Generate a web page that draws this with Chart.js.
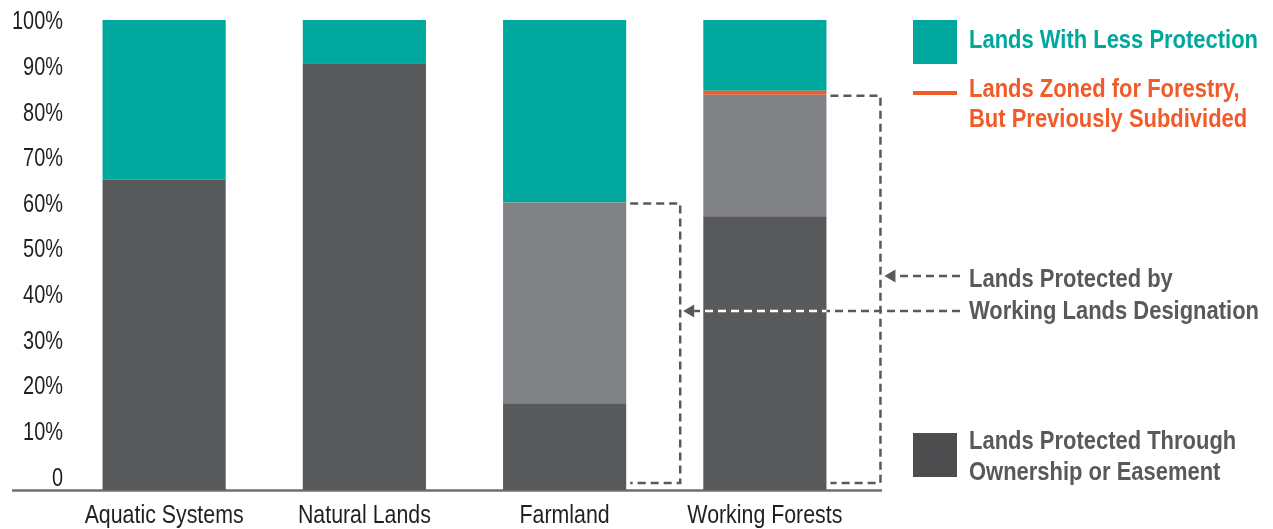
<!DOCTYPE html>
<html>
<head>
<meta charset="utf-8">
<title>Protection by land type</title>
<script src="https://cdn.jsdelivr.net/npm/chart.js"></script>
<style>
  html, body { margin: 0; padding: 0; background: #fff; }
</style>
</head>
<body>
<canvas id="chart" width="1273" height="529"></canvas>
<script>
// data
const categories = ['Aquatic Systems', 'Natural Lands', 'Farmland', 'Working Forests'];
const ownership = [65, 90.5, 16, 57];        // Lands Protected Through Ownership or Easement
const workingLands = [0, 0, 44, 26.6];       // Lands Protected by Working Lands Designation
const zonedSubdivided = [0, 0, 0, 0.9];      // Lands Zoned for Forestry, But Previously Subdivided
const lessProtection = [35, 9.5, 40, 15.5];  // Lands With Less Protection
const yTicks = [0, 10, 20, 30, 40, 50, 60, 70, 80, 90, 100];

const legendLess = ['Lands With Less Protection'];
const legendZoned = ['Lands Zoned for Forestry,', 'But Previously Subdivided'];
const legendWorking = ['Lands Protected by', 'Working Lands Designation'];
const legendOwned = ['Lands Protected Through', 'Ownership or Easement'];

const TEAL = '#00a79d';
const DARK = '#58595b';
const LIGHT = '#808285';
const ORANGE = '#f15a29';
const INK = '#231f20';
// no condensed face installed, so Liberation Sans gets squeezed sideways
const FONT = "'Liberation Sans', Arial, sans-serif";
const SIZE = 26;
const CAP = SIZE * 0.716;

Chart.defaults.font.family = FONT;

function squeeze(ctx, text, bold) {
  ctx.font = (bold ? 'bold ' : '') + SIZE + 'px ' + FONT;
  return ctx.measureText(text).width;
}

// text drawn at SIZE, scaled by sx in x only
function narrowText(ctx, text, x, y, bold, color, align, sx) {
  ctx.save();
  ctx.font = (bold ? 'bold ' : '') + SIZE + 'px ' + FONT;
  ctx.fillStyle = color;
  ctx.textBaseline = 'alphabetic';
  ctx.textAlign = 'left';
  const w = ctx.measureText(text).width * sx;
  const x0 = align === 'right' ? x - w : align === 'center' ? x - w / 2 : x;
  ctx.translate(x0, y);
  ctx.scale(sx, 1);
  ctx.fillText(text, 0, 0);
  ctx.restore();
}

function dashedPath(ctx, pts, color) {
  ctx.save();
  ctx.strokeStyle = color;
  ctx.lineWidth = 2.5;
  ctx.setLineDash([8, 5]);
  ctx.beginPath();
  ctx.moveTo(pts[0][0], pts[0][1]);
  for (let i = 1; i < pts.length; i++) ctx.lineTo(pts[i][0], pts[i][1]);
  ctx.stroke();
  ctx.restore();
}

function arrowHead(ctx, x, y) {
  ctx.save();
  ctx.fillStyle = DARK;
  ctx.beginPath();
  ctx.moveTo(x, y);
  ctx.lineTo(x + 11, y - 6.5);
  ctx.lineTo(x + 11, y + 6.5);
  ctx.closePath();
  ctx.fill();
  ctx.restore();
}

const decor = {
  id: 'decor',
  beforeDatasetsDraw(chart) {
    const ctx = chart.ctx;
    const y = chart.scales.y.getPixelForValue(chart.scales.y.min) + 0.5;
    ctx.save();
    ctx.strokeStyle = '#6d6e71';
    ctx.lineWidth = 2.5;
    ctx.beginPath();
    ctx.moveTo(12, y);
    ctx.lineTo(882, y);
    ctx.stroke();
    ctx.restore();
  },
  afterDatasetsDraw(chart) {
    const ctx = chart.ctx;
    const xs = chart.scales.x, ys = chart.scales.y;

    // axis labels
    const sxY = 51 / squeeze(ctx, '100%', false);
    ys.ticks.forEach(t => {
      const label = t.value === 0 ? '0' : t.value + '%';
      narrowText(ctx, label, 63, ys.getPixelForValue(t.value) + CAP / 2, false, INK, 'right', sxY);
    });
    const sxX = 159 / squeeze(ctx, categories[0], false);
    categories.forEach((c, i) => {
      narrowText(ctx, c, xs.getPixelForValue(i), 523, false, INK, 'center', sxX);
    });

    // brackets round the working-lands segments
    const bottom = ys.getPixelForValue(ys.min) - 7;
    const grey = chart.getDatasetMeta(1).data;
    const bx = [];
    [2, 3].forEach(i => {
      const el = grey[i];
      const right = el.x + el.width / 2;
      const xv = right + 54;
      bx.push(xv);
      dashedPath(ctx, [[right + 4, el.y + 1], [xv, el.y + 1], [xv, bottom], [right + 4, bottom]], DARK);
    });

    // arrows from the label
    const yUp = 276, yLow = 311, xStart = 960;
    arrowHead(ctx, bx[1] + 4, yUp);
    dashedPath(ctx, [[xStart, yUp], [bx[1] + 15, yUp]], DARK);
    arrowHead(ctx, bx[0] + 3, yLow);
    dashedPath(ctx, [[xStart, yLow], [bx[0] + 14, yLow]], DARK);
    // the lower arrow turns white where it crosses the Working Forests bar
    const wf = chart.getDatasetMeta(0).data[3];
    ctx.save();
    ctx.beginPath();
    ctx.rect(wf.x - wf.width / 2, 0, wf.width, chart.height);
    ctx.clip();
    dashedPath(ctx, [[xStart, yLow], [bx[0] + 14, yLow]], '#ffffff');
    ctx.restore();

    // legend
    ctx.save();
    ctx.fillStyle = TEAL;
    ctx.fillRect(913, 20, 44, 44);
    ctx.fillStyle = ORANGE;
    ctx.fillRect(913, 91, 44, 4);
    ctx.fillStyle = '#4d4d4f';
    ctx.fillRect(913, 433, 44, 44);
    ctx.restore();
    const sxL = 289 / squeeze(ctx, legendLess[0], true);
    const block = (lines, yc, step, color) =>
      lines.forEach((t, i) => narrowText(ctx, t, 969, yc + i * step + CAP / 2, true, color, 'left', sxL));
    block(legendLess, 39, 31, TEAL);
    block(legendZoned, 88, 30, ORANGE);
    block(legendWorking, 278, 32, DARK);
    block(legendOwned, 440, 31, DARK);
  }
};

new Chart(document.getElementById('chart'), {
  type: 'bar',
  data: {
    labels: categories,
    datasets: [
      { label: 'Lands Protected Through Ownership or Easement', data: ownership, backgroundColor: DARK, base: -3 },
      { label: 'Lands Protected by Working Lands Designation', data: workingLands, backgroundColor: LIGHT },
      { label: 'Lands Zoned for Forestry, But Previously Subdivided', data: zonedSubdivided, backgroundColor: ORANGE },
      { label: 'Lands With Less Protection', data: lessProtection, backgroundColor: TEAL }
    ]
  },
  options: {
    responsive: false,
    animation: false,
    layout: { padding: { top: 20, right: 408, left: 0, bottom: 0 } },
    datasets: { bar: { barPercentage: 0.615, categoryPercentage: 1 } },
    plugins: { legend: { display: false }, tooltip: { enabled: false } },
    scales: {
      x: {
        stacked: true,
        grid: { display: false },
        border: { display: false },
        ticks: { display: false },
        afterFit(s) { s.height = 39; }
      },
      y: {
        stacked: true,
        min: -3,
        max: 100,
        grid: { display: false },
        border: { display: false },
        ticks: { display: false },
        afterBuildTicks(s) { s.ticks = yTicks.map(v => ({ value: v })); },
        afterFit(s) { s.width = 64; }
      }
    }
  },
  plugins: [decor]
});
</script>
</body>
</html>
